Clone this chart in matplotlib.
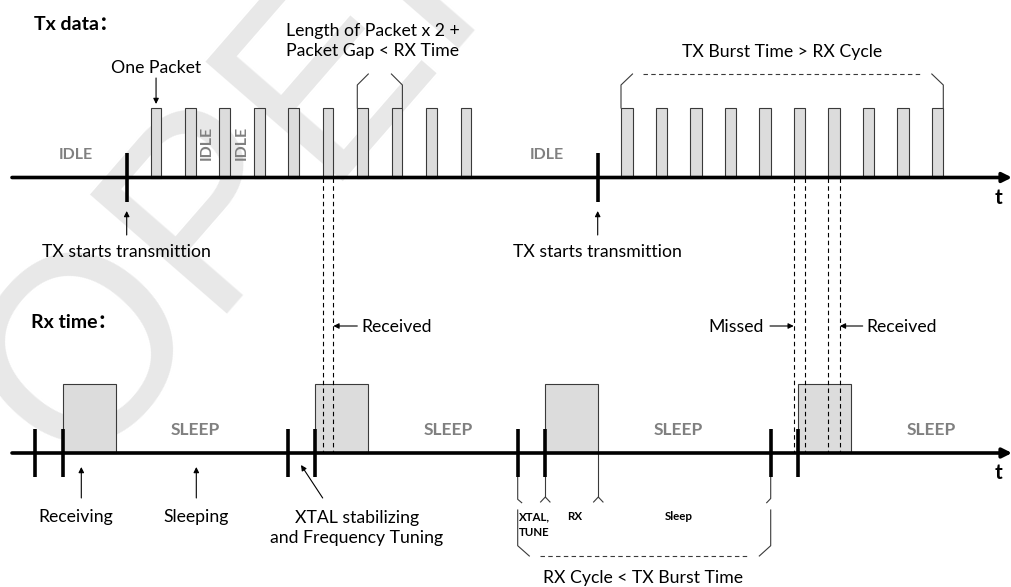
import matplotlib
matplotlib.use("Agg")
import matplotlib.pyplot as plt
from matplotlib.patches import Rectangle

# ---------------- data (time positions, schematic units) ----------------
tx_burst1_starts = [150.7, 185.0, 219.3, 254.0, 288.3, 322.7, 357.3, 391.7, 426.3, 460.7]
tx_burst2_starts = [621.0, 655.7, 690.3, 724.7, 759.3, 793.7, 828.3, 862.7, 897.0, 931.7]
packet_len1 = 10.7
packet_len2 = 11.6
tx_start_times = [126.7, 597.7]

rx_wake_times = [35.0, 288.3, 517.7, 770.7]        # XTAL / tune start
rx_window_starts = [62.7, 315.3, 545.3, 798.3]     # RX window start
rx_window_len = 53.0

idle_labels = ["IDLE", "IDLE"]
sleep_labels = ["SLEEP", "SLEEP", "SLEEP", "SLEEP"]
sleep_label_x = [195.7, 448.3, 678.3, 931.0]

# ---------------- layout ----------------
Y_TX = 177.5
Y_RX = 453.0
PKT_H = 69.5
RX_H = 69.0
FONT = ["Lato", "Noto Sans CJK SC", "DejaVu Sans"]
GRAY_TXT = "#808080"
FILL = "#dcdcdc"
EDGE = "#3a3a3a"
FS = 12.7

fig = plt.figure(figsize=(10.12, 5.87), dpi=100)
ax = fig.add_axes([0, 0, 1, 1])
ax.set_xlim(0, 1012)
ax.set_ylim(587, 0)
ax.axis("off")
plt.rcParams["font.family"] = FONT

# watermark
ax.text(75, 475, "OPERA", rotation=49, rotation_mode="anchor", ha="left", va="baseline",
        fontsize=190, color="#e8e8e8", family=["Liberation Sans", "DejaVu Sans"], zorder=0)

def arrow(x0, y0, x1, y1, lw=0.8, ms=8):
    ax.annotate("", xy=(x1, y1), xytext=(x0, y0),
                arrowprops=dict(arrowstyle="-|>", lw=lw, color="black",
                                mutation_scale=ms, shrinkA=0, shrinkB=0), zorder=5)

# time axes
for y in (Y_TX, Y_RX):
    ax.annotate("", xy=(1012, y), xytext=(12, y),
                arrowprops=dict(arrowstyle="-|>", lw=2.6, color="black",
                                mutation_scale=14, shrinkA=0, shrinkB=0), zorder=4)
    ax.text(999, y + 20, "t", fontsize=15, fontweight="bold", ha="center", va="center")

# TX packets
for starts, plen in ((tx_burst1_starts, packet_len1), (tx_burst2_starts, packet_len2)):
    for s in starts:
        ax.add_patch(Rectangle((s, Y_TX - PKT_H), plen, PKT_H, facecolor=FILL,
                               edgecolor=EDGE, lw=0.8, zorder=2))

# TX start markers
for t in tx_start_times:
    ax.plot([t, t], [153.3, 201.7], color="black", lw=2.6, zorder=5, solid_capstyle="butt")
    arrow(t, 235, t, 211)
    ax.text(t, 252, "TX starts transmittion", fontsize=FS, ha="center", va="center")

# RX windows
for s in rx_window_starts:
    ax.add_patch(Rectangle((s, Y_RX - RX_H), rx_window_len, RX_H, facecolor=FILL,
                           edgecolor=EDGE, lw=0.8, zorder=2))
for t in rx_wake_times + rx_window_starts:
    ax.plot([t, t], [429.3, 476.7], color="black", lw=2.6, zorder=5, solid_capstyle="butt")

# dashed projection lines
dash_x = [tx_burst1_starts[5], tx_burst1_starts[5] + packet_len1,
          tx_burst2_starts[5], tx_burst2_starts[5] + packet_len2,
          tx_burst2_starts[6], tx_burst2_starts[6] + packet_len2]
for x in dash_x:
    ax.plot([x, x], [Y_TX, Y_RX], color="black", lw=0.8, ls=(0, (4, 3)), zorder=3)

# labels
ax.text(34, 24, "Tx data：", fontsize=14, fontweight="bold", ha="left", va="center")
ax.text(31, 322, "Rx time：", fontsize=14, fontweight="bold", ha="left", va="center")

ax.text(75.5, 155, idle_labels[0], fontsize=11.5, fontweight="bold", color=GRAY_TXT, ha="center", va="center")
ax.text(546.7, 155, idle_labels[1], fontsize=11.5, fontweight="bold", color=GRAY_TXT, ha="center", va="center")
ax.text(207, 143, "IDLE", fontsize=11.5, fontweight="bold", color=GRAY_TXT, rotation=90, ha="center", va="center")
ax.text(242, 143, "IDLE", fontsize=11.5, fontweight="bold", color=GRAY_TXT, rotation=90, ha="center", va="center")
for x, lab in zip(sleep_label_x, sleep_labels):
    ax.text(x, 430, lab, fontsize=12.5, fontweight="bold", color=GRAY_TXT, ha="center", va="center")

# One Packet
ax.text(155.7, 68, "One Packet", fontsize=FS, ha="center", va="center")
arrow(tx_burst1_starts[0] + packet_len1 / 2, 78, tx_burst1_starts[0] + packet_len1 / 2, 104)

# Length bracket
ax.text(373, 41, "Length of Packet x 2 +\nPacket Gap < RX Time", fontsize=FS, ha="center",
        va="center", linespacing=1.25)
lx0 = tx_burst1_starts[6]
lx1 = tx_burst1_starts[7] + packet_len1
ax.plot([lx0, lx0, lx0 + 11], [Y_TX - PKT_H, 85, 74], color=EDGE, lw=0.8)
ax.plot([lx1, lx1, lx1 - 11], [Y_TX - PKT_H, 85, 74], color=EDGE, lw=0.8)

# Burst bracket
bx0 = tx_burst2_starts[0]
bx1 = tx_burst2_starts[-1] + packet_len2
ax.plot([bx0, bx0, bx0 + 11.5], [Y_TX - PKT_H, 85, 74], color=EDGE, lw=0.8)
ax.plot([bx1, bx1, bx1 - 11.5], [Y_TX - PKT_H, 85, 74], color=EDGE, lw=0.8)
ax.plot([bx0 + 22, bx1 - 22.5], [74, 74], color=EDGE, lw=0.8, ls=(0, (4, 3)))
ax.text(781.7, 51.5, "TX Burst Time > RX Cycle", fontsize=FS, ha="center", va="center")

# Received / Missed
ax.text(361.5, 326.5, "Received", fontsize=FS, ha="left", va="center")
arrow(357.3, 326, dash_x[1], 326)
ax.text(763.3, 326.5, "Missed", fontsize=FS, ha="right", va="center")
arrow(770, 326, dash_x[2], 326)
ax.text(866.7, 326.5, "Received", fontsize=FS, ha="left", va="center")
arrow(862.7, 326, dash_x[5], 326)

# lower annotations
arrow(rx_window_starts[0] + 18.6, 498, rx_window_starts[0] + 18.6, 467)
ax.text(75.3, 517, "Receiving", fontsize=FS, ha="center", va="center")
arrow(196.3, 498, 196.3, 467)
ax.text(196.3, 517, "Sleeping", fontsize=FS, ha="center", va="center")
arrow(322.7, 498, 301, 465)
ax.text(356.7, 528, "XTAL stabilizing\nand Frequency Tuning", fontsize=FS, ha="center",
        va="center", linespacing=1.25)

# RX cycle bracket
c0 = rx_wake_times[2]
c1 = rx_window_starts[2]
c2 = rx_window_starts[2] + rx_window_len
c3 = rx_wake_times[3]
ax.plot([c0, c0, c0 + 4], [476.7, 499.3, 502.7], color=EDGE, lw=0.8)
ax.plot([c1, c1], [476.7, 496.7], color=EDGE, lw=0.8)
ax.plot([c1 - 4.7, c1, c1 + 4.7], [502, 497, 502], color=EDGE, lw=0.8)
ax.plot([c2, c2], [Y_RX, 496.7], color=EDGE, lw=0.8)
ax.plot([c2 - 4.7, c2, c2 + 4.7], [502, 497, 502], color=EDGE, lw=0.8)
ax.plot([c3, c3, c3 - 4], [476.7, 498.5, 502.7], color=EDGE, lw=0.8)
ax.text(c0 + 1, 517, "XTAL,", fontsize=8.3, fontweight="bold", ha="left", va="center")
ax.text(c0 + 1, 532, "TUNE", fontsize=8.3, fontweight="bold", ha="left", va="center")
ax.text(575, 517, "RX", fontsize=8.3, fontweight="bold", ha="center", va="center")
ax.text(678.3, 517, "Sleep", fontsize=8.3, fontweight="bold", ha="center", va="center")

ax.plot([c0, c0, c0 + 11.6], [510, 545.7, 556], color=EDGE, lw=0.8)
ax.plot([c3, c3, c3 - 11.4], [510, 545.7, 556], color=EDGE, lw=0.8)
ax.plot([c0 + 22.3, c3 - 22.4], [556, 556], color=EDGE, lw=0.8, ls=(0, (4, 3)))
ax.text(643.3, 578, "RX Cycle < TX Burst Time", fontsize=FS, ha="center", va="center")

fig.savefig("out.png", dpi=100)
